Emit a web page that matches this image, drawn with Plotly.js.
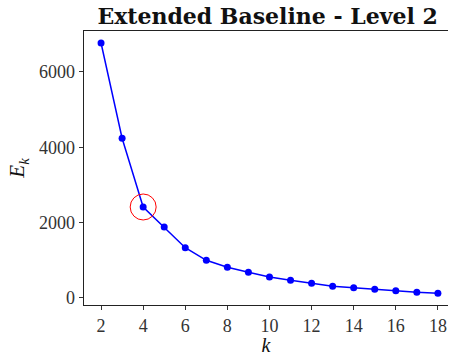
<!DOCTYPE html>
<html>
<head>
<meta charset="utf-8">
<script src="https://cdn.plot.ly/plotly-3.0.1.min.js"></script>
<style>html,body{margin:0;padding:0;background:#fff;}#chart{width:449px;height:356px;}</style>
</head>
<body>
<div id="chart"></div>
<script>
const kValues = [2,3,4,5,6,7,8,9,10,11,12,13,14,15,16,17,18];
const energyValues = [6770,4240,2416,1885,1335,1000,814,681,557,469,389,310,274,230,195,150,124];
const elbowK = [4];
const elbowE = [2416];
const xTicks = [2,4,6,8,10,12,14,16,18];
const yTicks = [0,2000,4000,6000];

const font = "'Liberation Serif', 'DejaVu Serif', serif";
const titleFont = "'DejaVu Serif', 'Liberation Serif', serif";

const traces = [
  {
    x: kValues, y: energyValues, type: 'scatter', mode: 'lines+markers',
    line: {color: '#0000ff', width: 1.5},
    marker: {color: '#0000ff', size: 7},
    hoverinfo: 'skip'
  },
  {
    x: elbowK, y: elbowE, type: 'scatter', mode: 'markers',
    marker: {symbol: 'circle-open', size: 26, color: '#ff0000', line: {color: '#ff0000', width: 1}},
    hoverinfo: 'skip'
  }
];

const layout = {
  width: 449, height: 356,
  margin: {l: 84, r: 1, t: 31, b: 51},
  paper_bgcolor: '#ffffff', plot_bgcolor: '#ffffff',
  showlegend: false,
  font: {family: font, color: '#222', size: 18},
  title: {
    text: '<b>Extended Baseline - Level 2</b>',
    font: {family: titleFont, size: 22, color: '#111'},
    x: 0.596, xanchor: 'center', xref: 'container',
    y: 0.955, yanchor: 'middle', yref: 'container'
  },
  xaxis: {
    range: [1.19, 18.48],
    tickvals: xTicks, ticktext: xTicks.map(String),
    ticks: 'outside', ticklen: 4, tickwidth: 1, tickcolor: '#333',
    showline: true, linecolor: '#222', linewidth: 1.3, mirror: true,
    showgrid: false, zeroline: false,
    tickfont: {family: font, size: 18, color: '#333'},
    title: {text: '<i>k</i>', font: {family: font, size: 20, color: '#111'}, standoff: 5}
  },
  yaxis: {
    range: [-186, 7088],
    tickvals: yTicks, ticktext: yTicks.map(String),
    ticks: 'outside', ticklen: 4, tickwidth: 1, tickcolor: '#333',
    showline: true, linecolor: '#222', linewidth: 1.3,
    showgrid: false, zeroline: false,
    tickfont: {family: font, size: 18, color: '#333'},
    title: {text: '<i>E</i><sub><i>k</i></sub>', font: {family: font, size: 21, color: '#111'}, standoff: 8}
  }
};

Plotly.newPlot('chart', traces, layout, {staticPlot: true, displayModeBar: false});
</script>
</body>
</html>
